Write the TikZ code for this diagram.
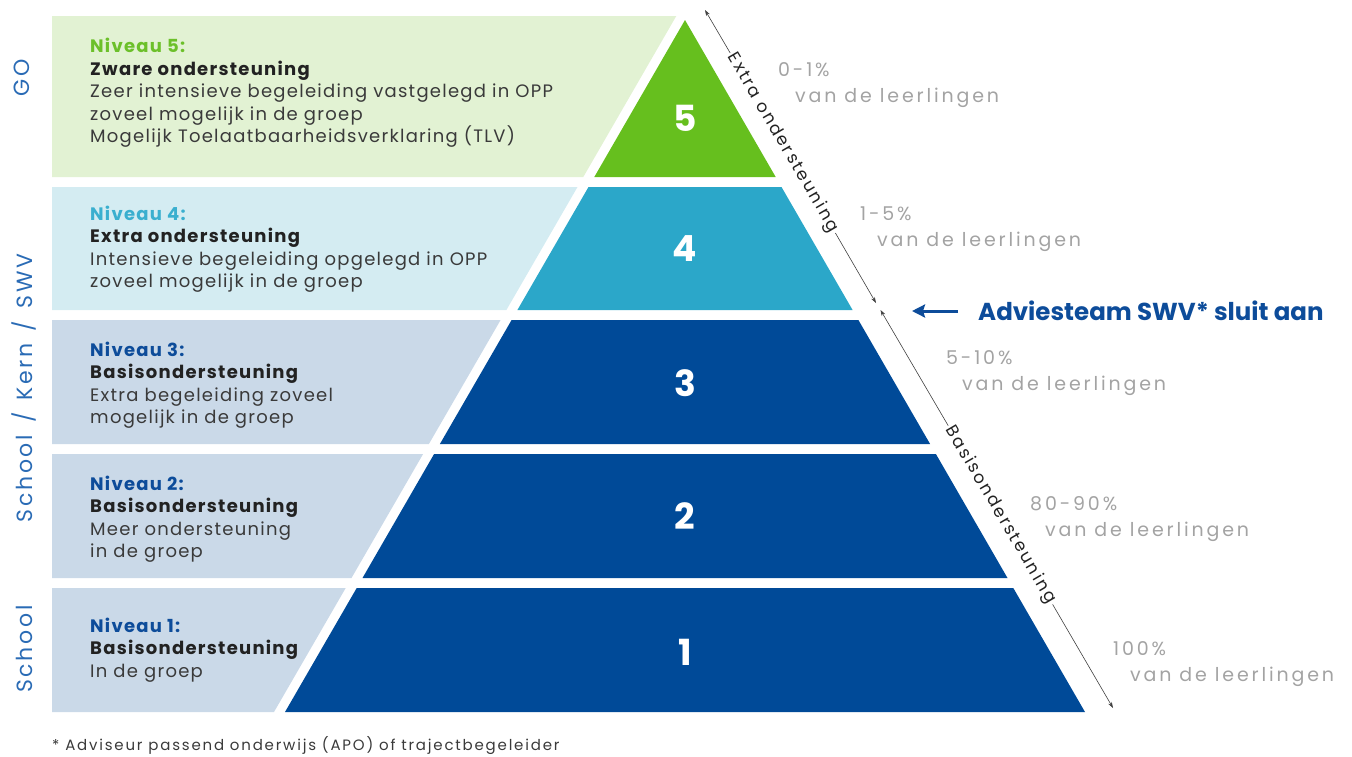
\documentclass[tikz,border=0pt]{standalone}
\usepackage{fontspec}
\setmainfont{Poppins}
\newfontfamily\bodyfont{Poppins}[LetterSpace=7]
\newfontfamily\widefont{Poppins}[LetterSpace=12]
\newfontfamily\pctfont{Poppins}[LetterSpace=15]
\usetikzlibrary{arrows.meta}

\definecolor{panelgreen}{HTML}{E2F2D3}
\definecolor{levelgreen}{HTML}{66BF1E}
\definecolor{nivgreen}{HTML}{6CC02A}
\definecolor{panelteal}{HTML}{D4ECF2}
\definecolor{levelteal}{HTML}{2BA7C9}
\definecolor{nivteal}{HTML}{3AAFCF}
\definecolor{panelblue}{HTML}{CAD9E8}
\definecolor{levelblue}{HTML}{004A98}
\definecolor{nivblue}{HTML}{0D4C9A}
\definecolor{sideblue}{HTML}{2A6BB5}
\definecolor{pctgray}{HTML}{A3A3A3}
\definecolor{textgray}{HTML}{3A3A3A}
\definecolor{boldgray}{HTML}{222222}

\begin{document}
\begin{tikzpicture}[x=1pt, y=-1pt,
    paneltext/.style={anchor=west, align=left, inner sep=0pt, text=textgray,
        font=\fontsize{18}{22.5}\selectfont\bodyfont},
    levelnum/.style={text=white, font=\fontsize{36}{40}\selectfont\bfseries},
    pct/.style={anchor=west, align=left, inner sep=0pt, text=pctgray,
        font=\fontsize{19}{26}\selectfont\pctfont},
    sidelabel/.style={rotate=90, text=sideblue,
        font=\fontsize{22}{26}\selectfont\widefont},
    guidetext/.style={rotate=-59.7, inner sep=2pt, text=boldgray,
        font=\fontsize{17}{20}\selectfont\widefont},
    guide/.style={draw=black!75, line width=0.6pt, -{Stealth[length=6pt,width=4pt]}}]
    \useasboundingbox (0,0) rectangle (1352,756);

    % left panels
    \fill[panelgreen] (52,16) -- (676.3,16) -- (583.3,177) -- (52,177) -- cycle;
    \fill[panelteal] (52,187) -- (577.5,187) -- (506.4,310) -- (52,310) -- cycle;
    \fill[panelblue] (52,320) -- (500.6,320) -- (428.9,444) -- (52,444) -- cycle;
    \fill[panelblue] (52,454) -- (423.1,454) -- (351.5,578) -- (52,578) -- cycle;
    \fill[panelblue] (52,588) -- (345.7,588) -- (274,712) -- (52,712) -- cycle;

    % pyramid
    \fill[levelgreen] (685,20) -- (775.7,177) -- (594.3,177) -- cycle;
    \fill[levelteal] (588.5,187) -- (781.5,187) -- (852.6,310) -- (517.4,310) -- cycle;
    \fill[levelblue] (511.6,320) -- (858.4,320) -- (930.1,444) -- (439.9,444) -- cycle;
    \fill[levelblue] (434.1,454) -- (935.9,454) -- (1007.5,578) -- (362.5,578) -- cycle;
    \fill[levelblue] (356.7,588) -- (1013.3,588) -- (1085,712) -- (285,712) -- cycle;

    \node[levelnum] (numfive) at (685,118) {5};
    \node[levelnum] (numfour) at (685,249) {4};
    \node[levelnum] (numthree) at (685,383) {3};
    \node[levelnum] (numtwo) at (685,516) {2};
    \node[levelnum] (numone) at (685,652) {1};

    % panel texts
    \node[paneltext] (txtfive) at (90,93) {\textcolor{nivgreen}{\bfseries Niveau 5:}\\
        \textcolor{boldgray}{\bfseries Zware ondersteuning}\\
        Zeer intensieve begeleiding vastgelegd in OPP\\
        zoveel mogelijk in de groep\\
        Mogelijk Toelaatbaarheidsverklaring (TLV)};
    \node[paneltext] (txtfour) at (90,249) {\textcolor{nivteal}{\bfseries Niveau 4:}\\
        \textcolor{boldgray}{\bfseries Extra ondersteuning}\\
        Intensieve begeleiding opgelegd in OPP\\
        zoveel mogelijk in de groep};
    \node[paneltext] (txtthree) at (90,385) {\textcolor{nivblue}{\bfseries Niveau 3:}\\
        \textcolor{boldgray}{\bfseries Basisondersteuning}\\
        Extra begeleiding zoveel\\
        mogelijk in de groep};
    \node[paneltext] (txttwo) at (90,519) {\textcolor{nivblue}{\bfseries Niveau 2:}\\
        \textcolor{boldgray}{\bfseries Basisondersteuning}\\
        Meer ondersteuning\\
        in de groep};
    \node[paneltext] (txtone) at (90,650) {\textcolor{nivblue}{\bfseries Niveau 1:}\\
        \textcolor{boldgray}{\bfseries Basisondersteuning}\\
        In de groep};

    % left side labels
    \node[sidelabel] (lblgo) at (22,78) {GO};
    \node[sidelabel] (lblkern) at (24,388) {School \,/\, Kern \,/\, SWV};
    \node[sidelabel] (lblschool) at (24,649) {School};

    % percentages
    \node[pct] (pctfive) at (778,85) {0-1\%\\\hspace*{17pt}van de leerlingen};
    \node[pct] (pctfour) at (860,229) {1-5\%\\\hspace*{17pt}van de leerlingen};
    \node[pct] (pctthree) at (946,373) {5-10\%\\\hspace*{16pt}van de leerlingen};
    \node[pct] (pcttwo) at (1030,519) {80-90\%\\\hspace*{15pt}van de leerlingen};
    \node[pct] (pctone) at (1113,664) {100\%\\\hspace*{17pt}van de leerlingen};

    % guides along the pyramid
    \coordinate (extratop) at (705,10);
    \coordinate (extrabot) at (876,303);
    \coordinate (basistop) at (880.5,310);
    \coordinate (basisbot) at (1113,708);
    \node[guidetext] (extra) at (782.8,143) {Extra ondersteuning};
    \node[guidetext] (basis) at (1000.4,515) {Basisondersteuning};
    \draw[guide] (extra.west) -- (extratop);
    \draw[guide] (extra.east) -- (extrabot);
    \draw[guide] (basis.west) -- (basistop);
    \draw[guide] (basis.east) -- (basisbot);

    % advice team
    \node[anchor=west, inner sep=0pt, text=nivblue,
        font=\fontsize{24.5}{28}\selectfont\bfseries]
        (advies) at (978,311) {Adviesteam SWV* sluit aan};
    \coordinate (adviesend) at (912,311);
    \draw[draw=nivblue, line width=3pt, shorten <=20pt,
        -{Stealth[length=13pt,width=13pt,inset=2pt]}] (advies.west) -- (adviesend);

    % footnote
    \node[anchor=west, inner sep=0pt, text=textgray,
        font=\fontsize{15}{16}\selectfont\widefont]
        (note) at (52,746) {* Adviseur passend onderwijs (APO) of trajectbegeleider};
\end{tikzpicture}
\end{document}
